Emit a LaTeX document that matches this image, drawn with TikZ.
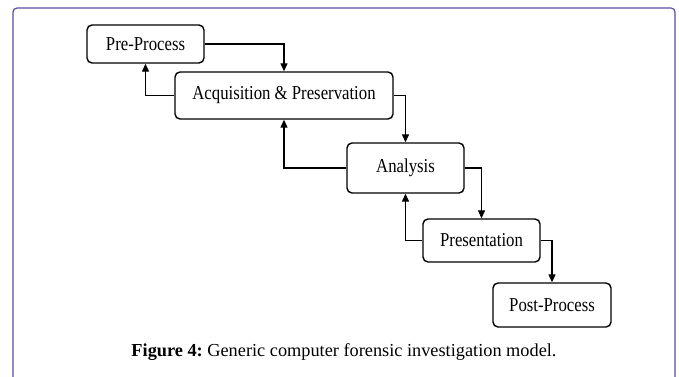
\documentclass[tikz,border=0pt]{standalone}
\usepackage{fontspec}
\setmainfont{Liberation Serif}
\newfontfamily\boxfont[FakeStretch=0.85]{Liberation Serif}
\usetikzlibrary{arrows.meta}
\definecolor{framecol}{RGB}{88,80,160}
\frenchspacing
\tikzset{
  stage/.style={draw, line width=1.4pt, rounded corners=5pt, inner sep=0pt, align=center,
    font=\boxfont\fontsize{19.7}{21}\selectfont},
  flow/.style={line width=1.3pt, -{Triangle[length=8pt,width=7pt]}},
}
\begin{document}
\begin{tikzpicture}[x=1pt,y=1pt]
\useasboundingbox (0,0) rectangle (679,376);
\draw[framecol, line width=1.2pt] (13,-3) -- (13,364) arc[start angle=180,end angle=90,radius=4] -- (671,368) arc[start angle=90,end angle=0,radius=4] -- (675,-3);
\node[stage, minimum width=117pt, minimum height=38pt] (pre) at (145.5,332) {Pre-Process};
\node[stage, minimum width=218pt, minimum height=47pt] (acq) at (284,280.5) {Acquisition \& Preservation};
\node[stage, minimum width=117pt, minimum height=50pt] (ana) at (405.5,208) {Analysis};
\node[stage, minimum width=117pt, minimum height=43pt] (pres) at (481.5,135.5) {Presentation};
\node[stage, minimum width=118pt, minimum height=44pt] (post) at (552,71) {Post-Process};
\draw[flow] (pre.east) -| (acq.north);
\draw[flow] (acq.west) -| (pre.south);
\draw[flow] (acq.east) -| (ana.north);
\draw[flow] (ana.west) -| (acq.south);
\draw[flow] (ana.east) -| (pres.north);
\draw[flow] (pres.west) -| (ana.south);
\draw[flow] (pres.east) -| (post.north);
\node[font=\fontsize{18.3}{20}\selectfont, inner sep=0pt] (cap) at (344,24) {\frenchspacing\textbf{Figure 4:} Generic computer forensic investigation model.};
\end{tikzpicture}
\end{document}
